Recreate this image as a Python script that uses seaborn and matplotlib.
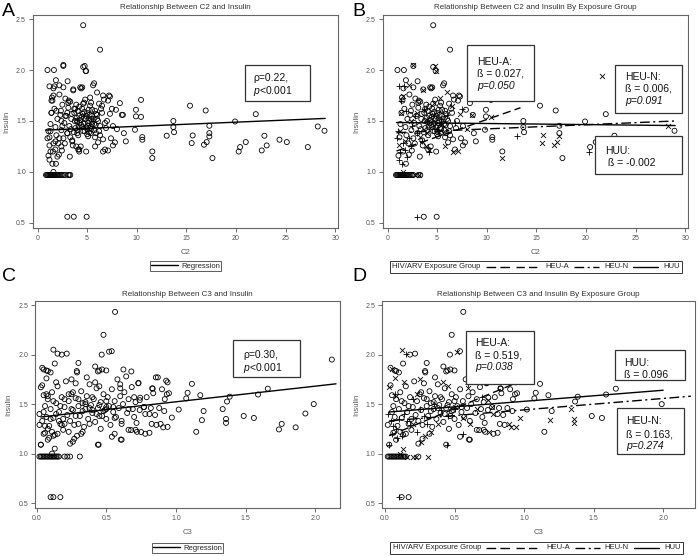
import numpy as np
import matplotlib
matplotlib.use("Agg")
import matplotlib.pyplot as plt
import seaborn as sns
from matplotlib.lines import Line2D
from matplotlib.patches import Rectangle
from matplotlib.offsetbox import AnchoredOffsetbox, HPacker, TextArea, DrawingArea

# ---------------- data: C2 vs insulin (panels A / B) ----------------
c2_huu_x = [0.85, 0.95, 1.05, 1.15, 1.25, 1.35, 1.45, 1.55, 1.65, 1.75,
            1.85, 1.95, 2.05, 2.15, 2.30, 2.45, 2.60, 3.10, 3.30, 3.65,
            4.95, 4.60, 6.30, 4.60, 4.85, 2.60, 1.00, 1.65, 3.03, 1.85,
            1.2, 1.3, 1.4, 1.5, 1.6, 1.7, 1.8, 1.9, 2.0, 2.1,
            2.2, 2.3, 2.4, 2.5, 2.6, 2.7, 2.8, 2.9, 3.0, 3.1,
            3.2, 3.3, 3.4, 3.5, 3.6, 3.7, 3.8, 3.9, 4.0, 4.1,
            4.2, 4.3, 4.4, 4.5, 4.6, 4.7, 4.8, 4.9, 5.0, 5.1,
            5.2, 5.3, 5.4, 5.5, 5.6, 5.7, 5.8, 5.9, 6.0, 6.1,
            6.2, 6.3, 6.5, 6.6, 6.7, 6.8, 7.0, 7.2, 7.4, 7.6,
            3.45, 3.75, 4.05, 4.25, 4.45, 4.65, 4.85, 5.05, 5.25, 5.45,
            3.35, 3.65, 3.95, 4.15, 4.55, 4.75, 5.15, 5.35, 5.65, 5.85,
            2.45, 2.15, 1.85, 3.25, 3.55, 4.35, 4.9, 4.1, 2.75, 1.55,
            3.1, 3.15, 4.4, 4.5, 5.7, 6.6, 2.6, 1.1, 1.45, 2.35,
            4.3, 4.5, 4.7, 4.9, 5.1, 5.3, 5.5, 5.7, 5.9, 6.1,
            3.8, 4.0, 4.2, 4.6, 5.0, 5.4, 5.8, 6.2, 6.4, 6.9,
            8.3, 8.6, 8.7, 8.9, 7.9, 7.6, 7.8, 7.3, 7.1, 6.3,
            9.92, 9.92, 10.43, 9.82, 10.56, 10.56, 11.57, 13.69, 13.69, 13.76,
            15.37, 16.95, 17.32, 17.32, 17.63, 19.91, 20.42, 20.99, 22.0, 22.6,
            22.87, 23.1, 24.39, 25.13, 27.25, 28.93]
c2_huu_ins = [0.97, 0.97, 0.97, 0.97, 0.97, 0.97, 0.97, 0.97, 0.97, 0.97,
              0.97, 0.97, 0.97, 0.97, 0.97, 0.97, 0.97, 0.97, 0.97, 0.56,
              0.56, 2.44, 2.20, 2.03, 1.99, 2.04, 2.00, 2.00, 1.89, 1.90,
              1.34, 1.47, 1.58, 1.70, 1.82, 1.62, 1.44, 1.36, 1.52, 1.28,
              1.76, 1.56, 1.41, 1.66, 1.33, 1.48, 1.72, 1.55, 1.38, 1.63,
              1.45, 1.69, 1.52, 1.31, 1.81, 1.58, 1.43, 1.66, 1.49, 1.36,
              1.55, 1.83, 1.46, 1.62, 1.40, 1.53, 1.71, 1.44, 1.58, 1.35,
              1.50, 1.65, 1.42, 1.55, 1.85, 1.47, 1.60, 1.38, 1.52, 1.29,
              1.67, 1.45, 1.58, 1.32, 1.71, 1.22, 1.50, 1.75, 1.33, 1.26,
              1.57, 1.50, 1.60, 1.48, 1.54, 1.47, 1.52, 1.45, 1.56, 1.49,
              1.42, 1.39, 1.53, 1.44, 1.57, 1.40, 1.61, 1.38, 1.52, 1.46,
              1.21, 1.17, 1.08, 1.15, 1.26, 1.25, 1.20, 1.22, 1.28, 1.20,
              1.68, 1.70, 1.82, 1.83, 1.87, 1.75, 1.83, 1.16, 1.73, 1.60,
              1.51, 1.44, 1.59, 1.55, 1.48, 1.43, 1.61, 1.41, 1.57, 1.50,
              1.62, 1.41, 1.64, 1.67, 1.37, 1.68, 1.34, 1.40, 1.62, 1.43,
              1.675, 1.56, 1.38, 1.30, 1.61, 1.45, 1.29, 1.74, 1.70, 1.36,
              1.61, 1.545, 1.707, 1.414, 1.342, 1.316, 1.201, 1.50, 1.44, 1.39,
              1.65, 1.603, 1.453, 1.381, 1.136, 1.495, 1.244, 1.293, 1.567, 1.211,
              1.355, 1.26, 1.316, 1.293, 1.244, 1.404]

c2_heun_x = [1.4, 2.6, 4.75, 4.9, 2.2, 1.3, 3.6, 6.0, 6.5, 7.3,
             8.5, 10.43, 8.0, 7.1, 6.6, 5.8, 4.2, 2.4, 3.0, 1.6,
             1.8, 1.2, 5.5, 4.0, 3.3, 2.8, 3.2, 1.6, 4.7, 5.3,
             11.57, 15.64, 15.54, 16.78, 17.05, 17.32, 21.6, 28.25, 5.2, 3.9]
c2_heun_ins = [1.58, 2.05, 2.04, 1.99, 1.85, 1.40, 1.80, 1.78, 1.65, 1.57,
               1.56, 1.54, 1.42, 1.21, 1.20, 1.25, 1.22, 1.50, 1.58, 1.75,
               1.30, 1.26, 1.47, 1.38, 1.34, 0.97, 0.97, 1.00, 1.68, 1.73,
               1.136, 1.358, 1.283, 1.267, 1.293, 1.348, 1.94, 1.446, 1.39, 1.25]

c2_heua_x = [1.2, 1.5, 1.3, 1.8, 2.0, 1.6, 2.2, 1.9, 1.2, 1.7,
             1.1, 2.5, 3.0, 3.5, 4.2, 4.0, 5.0, 6.0, 7.5, 13.02,
             3.0, 1.4, 2.4, 2.8, 3.7, 5.4, 6.8, 1.0, 20.28]
c2_heua_ins = [1.12, 1.08, 1.20, 1.22, 1.15, 1.28, 1.33, 1.60, 1.84, 1.84,
               1.40, 1.45, 1.38, 1.30, 1.20, 1.50, 1.42, 1.56, 1.62, 1.355,
               0.56, 1.70, 1.25, 1.55, 1.62, 1.52, 1.48, 1.33, 1.20]

# ---------------- data: C3 vs insulin (panels C / D) ----------------
c3_huu_x = [0.02, 0.03, 0.04, 0.05, 0.06, 0.07, 0.08, 0.09, 0.10, 0.11,
            0.12, 0.13, 0.14, 0.15, 0.24, 0.12, 0.17, 0.563, 0.48, 0.539,
            0.467, 0.216, 0.18, 0.30, 0.288, 0.04, 0.08,
            0.04, 0.05, 0.06, 0.07, 0.08, 0.09, 0.10, 0.11, 0.12, 0.13,
            0.14, 0.15, 0.16, 0.17, 0.18, 0.19, 0.20, 0.21, 0.22, 0.23,
            0.24, 0.25, 0.26, 0.27, 0.28, 0.29, 0.30, 0.31, 0.32, 0.33,
            0.34, 0.35, 0.36, 0.37, 0.38, 0.39, 0.40, 0.41, 0.42, 0.43,
            0.44, 0.45, 0.46, 0.47, 0.48, 0.49, 0.50, 0.51, 0.52, 0.53,
            0.54, 0.55, 0.56, 0.57, 0.58, 0.59, 0.60, 0.61, 0.62, 0.63,
            0.65, 0.66, 0.68, 0.69, 0.70, 0.71, 0.73, 0.74, 0.77, 0.79,
            0.83, 0.86, 0.87, 0.88, 0.90, 0.92, 0.94, 0.95, 0.85, 0.81,
            0.30, 0.35, 0.40, 0.45, 0.50, 0.55, 0.33, 0.38, 0.43, 0.48,
            0.42, 0.44, 0.47, 0.50, 0.36, 0.26, 0.28, 0.10, 0.13, 0.07,
            0.24, 0.27, 0.32, 0.44, 0.46, 0.54, 0.61, 0.66, 0.72, 0.78,
            0.08, 0.11, 0.15, 0.02, 0.03, 0.05, 0.17, 0.19, 0.06, 0.12,
            1.99, 1.93, 1.86, 1.76, 1.74, 1.66, 1.59, 1.56, 1.487, 1.386,
            1.367, 1.199, 1.175, 1.146, 1.115, 1.084, 1.074, 1.02, 0.93, 0.935,
            0.916, 0.856, 0.833, 0.837, 0.82, 0.826, 0.81, 0.731, 0.743, 0.717,
            0.683, 0.678, 0.71, 0.623, 0.643, 0.604]
c3_huu_ins = [0.97, 0.97, 0.97, 0.97, 0.97, 0.97, 0.97, 0.97, 0.97, 0.97,
              0.97, 0.97, 0.97, 0.97, 0.97, 0.56, 0.56, 2.432, 2.20, 2.035,
              2.00, 2.01, 2.00, 1.916, 1.834, 1.867, 1.834,
              1.69, 1.59, 1.48, 1.37, 1.55, 1.28, 1.45, 1.62, 1.36, 1.19,
              1.51, 1.68, 1.42, 1.30, 1.57, 1.24, 1.47, 1.73, 1.39, 1.53,
              1.33, 1.60, 1.44, 1.29, 1.56, 1.82, 1.48, 1.38, 1.63, 1.51,
              1.27, 1.45, 1.58, 1.35, 1.70, 1.49, 1.41, 1.55, 1.32, 1.66,
              1.46, 1.84, 1.52, 1.38, 1.60, 1.44, 1.35, 1.57, 1.48, 1.29,
              1.65, 1.42, 1.53, 1.37, 1.75, 1.46, 1.58, 1.33, 1.50, 1.62,
              1.41, 1.55, 1.83, 1.45, 1.37, 1.52, 1.71, 1.44, 1.47, 1.57,
              1.66, 1.29, 1.77, 1.46, 1.65, 1.55, 1.72, 1.61, 1.39, 1.40,
              1.55, 1.52, 1.57, 1.49, 1.53, 1.47, 1.43, 1.46, 1.40, 1.43,
              1.88, 1.83, 1.85, 1.84, 1.77, 1.62, 1.71, 1.82, 1.91, 1.84,
              1.10, 1.15, 1.20, 1.09, 1.25, 1.17, 1.14, 1.24, 1.22, 1.20,
              1.14, 1.22, 1.20, 1.29, 1.09, 1.42, 1.48, 1.35, 1.21, 1.53,
              1.50, 1.405, 1.265, 1.30, 1.244, 1.656, 1.597, 1.36, 1.38, 1.575,
              1.526, 1.43, 1.59, 1.22, 1.705, 1.614, 1.558, 1.445, 1.737, 1.60,
              1.43, 1.77, 1.656, 1.61, 1.46, 1.30, 1.21, 1.714, 1.565, 1.31,
              1.672, 1.237, 1.24, 1.85, 1.78, 1.142]

c3_heun_x = [2.12, 1.36, 1.36, 1.187, 1.336, 0.971, 0.909, 0.89, 0.94, 0.78,
             0.77, 0.75, 0.74, 0.52, 0.12, 0.05, 0.03, 0.07, 0.14, 0.20,
             0.26, 0.29, 0.33, 0.13, 0.11, 0.16, 0.20, 0.22, 0.31, 0.50,
             0.61, 0.60, 0.38, 0.42, 0.23, 0.08, 0.56, 0.66, 0.45, 0.25]
c3_heun_ins = [1.95, 1.35, 1.31, 1.338, 1.45, 1.364, 1.265, 1.30, 1.27, 1.40,
               1.47, 1.218, 1.54, 2.03, 2.05, 1.85, 1.67, 1.76, 1.72, 1.30,
               1.12, 1.18, 1.22, 1.05, 1.00, 0.97, 0.97, 0.97, 0.97, 1.47,
               1.30, 1.66, 1.30, 1.72, 1.60, 1.58, 1.36, 1.45, 1.68, 1.75]

c3_heua_x = [0.03, 0.05, 0.04, 0.08, 0.12, 0.10, 0.07, 0.15, 0.20, 0.25,
             0.30, 0.445, 0.56, 0.23, 0.35, 0.10, 0.60, 0.50, 0.02, 0.06,
             0.14, 0.18, 0.28, 0.40, 0.45, 0.09, 0.16, 0.70]
c3_heua_ins = [1.09, 1.20, 1.33, 1.25, 1.18, 1.35, 1.60, 2.01, 1.55, 1.45,
               1.30, 1.09, 1.20, 1.22, 1.50, 0.56, 1.70, 1.45, 1.40, 1.28,
               1.40, 1.29, 1.38, 1.44, 1.38, 1.16, 1.33, 1.57]

# regression lines (end points)
reg_c2_x, reg_c2_y = [0.8, 29.0], [1.41, 1.525]
reg_c2_heua_x, reg_c2_heua_y = [0.9, 13.4], [1.205, 1.63]
reg_c2_heun_x, reg_c2_heun_y = [0.9, 29.0], [1.385, 1.50]
reg_c2_huu_x, reg_c2_huu_y = [0.9, 29.0], [1.485, 1.455]
reg_c3_x, reg_c3_y = [0.03, 2.15], [1.37, 1.705]
reg_c3_heua_x, reg_c3_heua_y = [0.03, 0.92], [1.18, 1.70]
reg_c3_heun_x, reg_c3_heun_y = [0.03, 2.2], [1.33, 1.58]
reg_c3_huu_x, reg_c3_huu_y = [0.03, 2.0], [1.42, 1.64]

# ---------------- style ----------------
sns.set_theme(style="white")
plt.rcParams["font.family"] = ["Liberation Sans Narrow", "Liberation Sans", "DejaVu Sans"]
plt.rcParams["mathtext.fontset"] = "custom"
plt.rcParams["mathtext.it"] = "Liberation Sans:italic"
plt.rcParams["mathtext.rm"] = "Liberation Sans"

GREY = "#555555"
DASH_A = (0, (6, 3))
DASH_N = (0, (7, 2.5, 1.5, 2.5))

fig = plt.figure(figsize=(7, 5.56), dpi=100)
ax_a = fig.add_axes([0.047, 0.590, 0.436, 0.383])
ax_b = fig.add_axes([0.547, 0.590, 0.436, 0.383])
ax_c = fig.add_axes([0.050, 0.0863, 0.436, 0.372])
ax_d = fig.add_axes([0.546, 0.0863, 0.447, 0.372])


def style_axes(ax, title, xlabel, xlim, xticks, xfmt):
    ax.set_xlim(*xlim)
    ax.set_ylim(0.45, 2.54)
    ax.set_xticks(xticks)
    ax.set_xticklabels([xfmt.format(t) for t in xticks])
    ax.set_yticks([0.5, 1.0, 1.5, 2.0, 2.5])
    ax.set_yticklabels(["0.5", "1.0", "1.5", "2.0", "2.5"])
    ax.tick_params(axis="both", direction="out", length=3, width=0.6, color=GREY,
                   labelsize=5, labelcolor=GREY, pad=2, bottom=True, left=True)
    for sp in ax.spines.values():
        sp.set_color("#666666")
        sp.set_linewidth(0.8)
    ax.set_title(title, fontsize=5.8, color="#333333", pad=4)
    ax.set_xlabel(xlabel, fontsize=5.5, color=GREY, labelpad=5)
    ax.set_ylabel("Insulin", fontsize=5.5, color=GREY, labelpad=4)


def open_circles(ax, x, y):
    sns.scatterplot(x=x, y=y, ax=ax, marker="o", s=13, facecolors="none",
                    edgecolor="black", linewidth=0.6, zorder=3)


def line_marks(ax, x, y, marker):
    sns.scatterplot(x=x, y=y, ax=ax, marker=marker, s=13, color="black",
                    linewidth=0.6, zorder=3)


def stat_box(ax, box, x_text, lines):
    x0, x1, y0, y1 = box
    ax.add_patch(Rectangle((x0, y0), x1 - x0, y1 - y0, transform=ax.transAxes,
                           fc="white", ec="#333333", lw=0.9, zorder=5))
    for y, txt, italic in lines:
        ax.text(x_text, y, txt, transform=ax.transAxes, fontsize=7.5,
                family="Liberation Sans", style="italic" if italic else "normal",
                va="center", ha="left", color="#111111", zorder=6)


def group_legend(ax, anchor):
    fs = 5.5
    kids = [TextArea("HIV/ARV Exposure Group", textprops=dict(fontsize=fs, color="#222222"))]
    entries = [((0, (7, 3)), ""), (DASH_A, "HEU-A"), (DASH_N, "HEU-N"), ("-", "HUU")]
    for ls, lab in entries:
        da = DrawingArea(18, 5, 0, 0)
        da.add_artist(Line2D([0, 18], [2.5, 2.5], color="black", lw=1.0, linestyle=ls))
        kids.append(da)
        if lab:
            kids.append(TextArea(lab, textprops=dict(fontsize=fs, color="#222222")))
    pack = HPacker(children=kids, align="center", pad=0, sep=3.6)
    box = AnchoredOffsetbox(loc="upper left", child=pack, pad=0.15, borderpad=0,
                            bbox_to_anchor=anchor, bbox_transform=ax.transAxes,
                            frameon=True)
    box.patch.set_edgecolor("#333333")
    box.patch.set_linewidth(0.7)
    box.patch.set_boxstyle("square", pad=0)
    ax.add_artist(box)


def reg_legend(ax, y):
    h = [Line2D([0], [0], color="black", lw=1.0)]
    leg = ax.legend(h, ["Regression"], loc="upper center", bbox_to_anchor=(0.5, y),
                    fontsize=5.5, frameon=True, fancybox=False, handlelength=3.5,
                    borderpad=0.2, handletextpad=0.4, borderaxespad=0)
    leg.get_frame().set_edgecolor("#333333")
    leg.get_frame().set_linewidth(0.7)


# ---------------- panel A ----------------
open_circles(ax_a, c2_huu_x + c2_heun_x + c2_heua_x, c2_huu_ins + c2_heun_ins + c2_heua_ins)
ax_a.plot(reg_c2_x, reg_c2_y, color="black", lw=1.0, zorder=4)
style_axes(ax_a, "Relationship Between C2 and Insulin", "C2", (-0.47, 30.3),
           [0, 5, 10, 15, 20, 25, 30], "{:d}")
stat_box(ax_a, (0.695, 0.908, 0.596, 0.765), 0.721,
         [(0.704, "\u03c1=0.22,", False), (0.643, "$p$<0.001", False)])
reg_legend(ax_a, -0.155)

# ---------------- panel B ----------------
open_circles(ax_b, c2_huu_x, c2_huu_ins)
line_marks(ax_b, c2_heun_x, c2_heun_ins, "x")
line_marks(ax_b, c2_heua_x, c2_heua_ins, "+")
ax_b.plot(reg_c2_heua_x, reg_c2_heua_y, color="black", lw=1.0, linestyle=DASH_A, zorder=4)
ax_b.plot(reg_c2_heun_x, reg_c2_heun_y, color="black", lw=1.0, linestyle=DASH_N, zorder=4)
ax_b.plot(reg_c2_huu_x, reg_c2_huu_y, color="black", lw=1.0, zorder=4)
style_axes(ax_b, "Relationship Between C2 and Insulin By Exposure Group", "C2", (-0.47, 30.3),
           [0, 5, 10, 15, 20, 25, 30], "{:d}")
stat_box(ax_b, (0.275, 0.495, 0.596, 0.859), 0.308,
         [(0.779, "HEU-A:", False), (0.723, "\u00df = 0.027,", False), (0.667, "p=0.050", True)])
stat_box(ax_b, (0.761, 0.980, 0.540, 0.765), 0.793,
         [(0.709, "HEU-N:", False), (0.653, "\u00df = 0.006,", False), (0.596, "p=0.091", True)])
stat_box(ax_b, (0.695, 0.980, 0.254, 0.432), 0.728,
         [(0.362, "HUU:", False), (0.305, " \u00df = -0.002", False)])
group_legend(ax_b, (0.023, -0.155))

# ---------------- panel C ----------------
open_circles(ax_c, c3_huu_x + c3_heun_x + c3_heua_x, c3_huu_ins + c3_heun_ins + c3_heua_ins)
ax_c.plot(reg_c3_x, reg_c3_y, color="black", lw=1.0, zorder=4)
style_axes(ax_c, "Relationship Between C3 and Insulin", "C3", (-0.012, 2.18),
           [0.0, 0.5, 1.0, 1.5, 2.0], "{:.1f}")
stat_box(ax_c, (0.649, 0.869, 0.633, 0.812), 0.682,
         [(0.739, "\u03c1=0.30,", False), (0.676, "$p$<0.001", False)])
reg_legend(ax_c, -0.169)

# ---------------- panel D ----------------
open_circles(ax_d, c3_huu_x, c3_huu_ins)
line_marks(ax_d, c3_heun_x, c3_heun_ins, "x")
line_marks(ax_d, c3_heua_x, c3_heua_ins, "+")
ax_d.plot(reg_c3_heua_x, reg_c3_heua_y, color="black", lw=1.0, linestyle=DASH_A, zorder=4)
ax_d.plot(reg_c3_heun_x, reg_c3_heun_y, color="black", lw=1.0, linestyle=DASH_N, zorder=4)
ax_d.plot(reg_c3_huu_x, reg_c3_huu_y, color="black", lw=1.0, zorder=4)
style_axes(ax_d, "Relationship Between C3 and Insulin By Exposure Group", "C3", (-0.02, 2.23),
           [0.0, 0.5, 1.0, 1.5, 2.0], "{:.1f}")
stat_box(ax_d, (0.268, 0.486, 0.599, 0.855), 0.297,
         [(0.797, "HEU-A:", False), (0.739, "\u00df = 0.519,", False), (0.681, "p=0.038", True)])
stat_box(ax_d, (0.744, 0.968, 0.618, 0.763), 0.773,
         [(0.700, "HUU:", False), (0.643, "\u00df = 0.096", False)])
stat_box(ax_d, (0.751, 0.965, 0.261, 0.483), 0.780,
         [(0.420, "HEU-N:", False), (0.357, "\u00df = 0.163,", False), (0.300, "p=0.274", True)])
group_legend(ax_d, (0.026, -0.164))

# panel letters
for lab, x, y in [("A", 0.003, 0.980), ("B", 0.503, 0.980), ("C", 0.003, 0.502), ("D", 0.503, 0.502)]:
    fig.text(x, y, lab, fontsize=14, family="Liberation Sans", va="center", ha="left", color="black")

fig.savefig("out.png", dpi=100)
